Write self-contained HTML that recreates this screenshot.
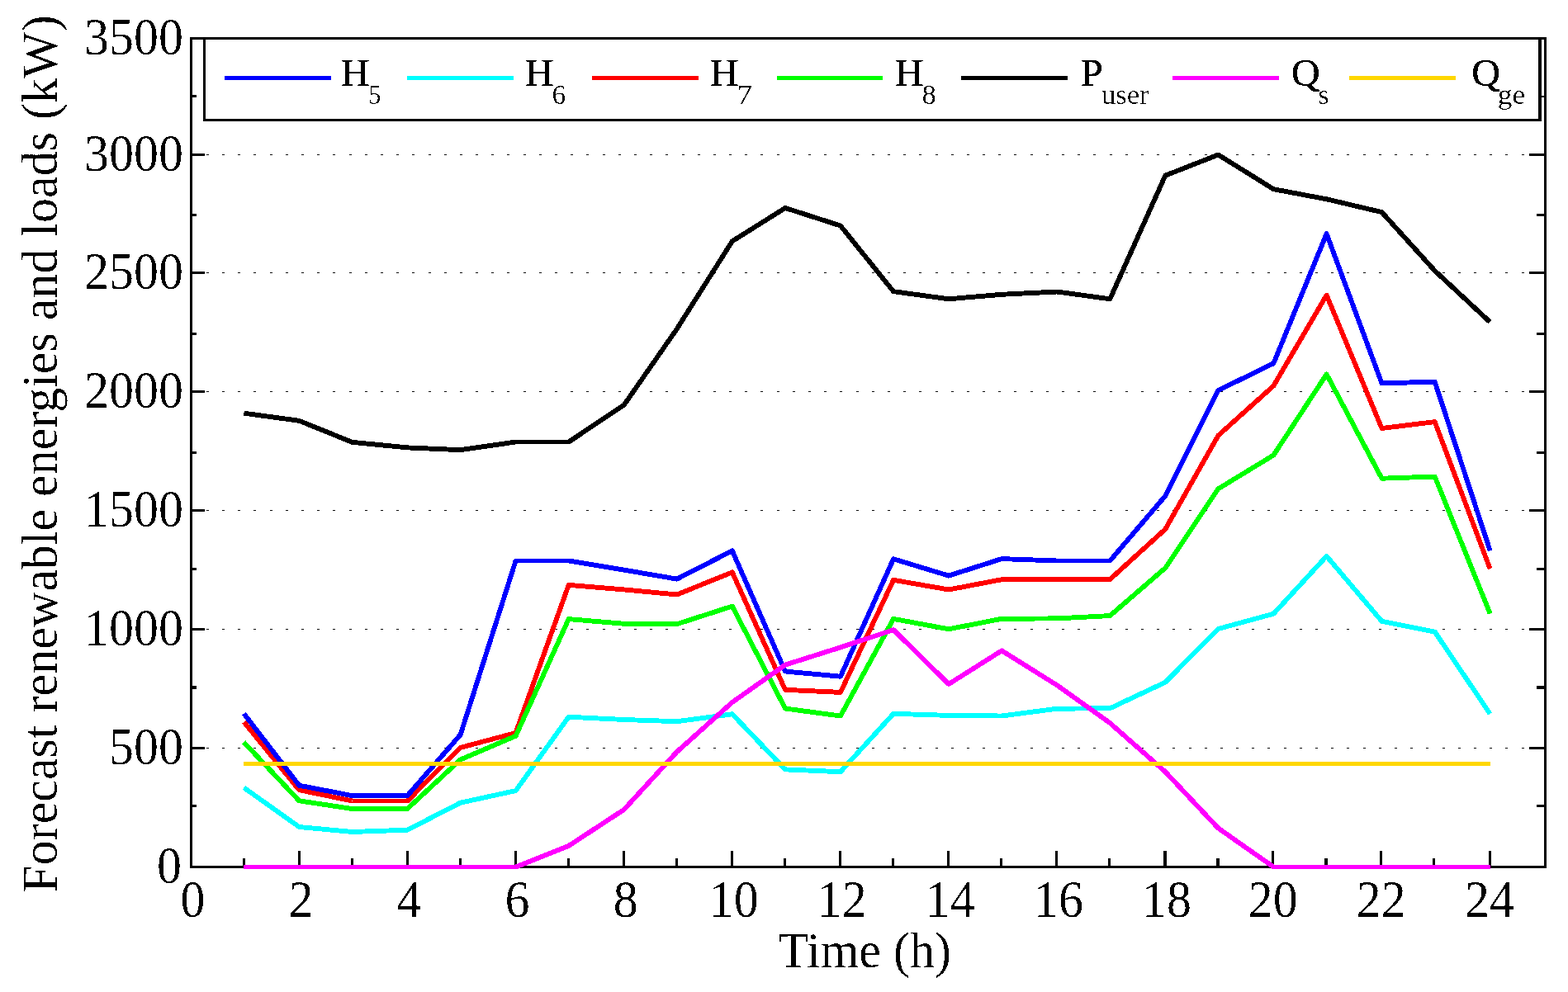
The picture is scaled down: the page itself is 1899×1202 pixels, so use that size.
<!DOCTYPE html>
<html lang="en"><head><meta charset="utf-8"><title>Forecast renewable energies and loads</title>
<style>
html,body{margin:0;padding:0;background:#fff;}
body{width:1899px;height:1202px;overflow:hidden;}
svg{display:block;}
text{font-family:"Liberation Serif","Times New Roman",serif;fill:#000;}
.t60{font-size:60px;}
.t48{font-size:48px;stroke:#000;stroke-width:0.5px;}
.sub{font-size:33.6px;}
.ln{fill:none;stroke-width:5.9;stroke-linejoin:round;stroke-linecap:butt;}
</style></head><body>
<svg width="1899" height="1202" viewBox="0 0 1899 1202">
<rect x="0" y="0" width="1899" height="1202" fill="#ffffff"/>
<defs><filter id="bin" x="-5%" y="-5%" width="110%" height="110%" color-interpolation-filters="sRGB"><feComponentTransfer><feFuncA type="discrete" tableValues="0 0 0 1 1"/></feComponentTransfer></filter></defs>
<g shape-rendering="crispEdges" fill="#000">
<path d="M250 187h3v1h-3zM269 187h3v1h-3zM288 187h3v1h-3zM307 187h3v1h-3zM327 187h3v1h-3zM346 187h3v1h-3zM365 187h3v1h-3zM384 187h3v1h-3zM403 187h3v1h-3zM423 187h3v1h-3zM442 187h3v1h-3zM461 187h3v1h-3zM480 187h3v1h-3zM499 187h3v1h-3zM519 187h3v1h-3zM538 187h3v1h-3zM557 187h3v1h-3zM576 187h3v1h-3zM595 187h3v1h-3zM614 187h3v1h-3zM634 187h3v1h-3zM653 187h3v1h-3zM672 187h3v1h-3zM691 187h3v1h-3zM710 187h3v1h-3zM730 187h3v1h-3zM749 187h3v1h-3zM768 187h3v1h-3zM787 187h3v1h-3zM806 187h3v1h-3zM826 187h3v1h-3zM845 187h3v1h-3zM864 187h3v1h-3zM883 187h3v1h-3zM902 187h3v1h-3zM921 187h3v1h-3zM941 187h3v1h-3zM960 187h3v1h-3zM979 187h3v1h-3zM998 187h3v1h-3zM1017 187h3v1h-3zM1037 187h3v1h-3zM1056 187h3v1h-3zM1075 187h3v1h-3zM1094 187h3v1h-3zM1113 187h3v1h-3zM1133 187h3v1h-3zM1152 187h3v1h-3zM1171 187h3v1h-3zM1190 187h3v1h-3zM1209 187h3v1h-3zM1228 187h3v1h-3zM1248 187h3v1h-3zM1267 187h3v1h-3zM1286 187h3v1h-3zM1305 187h3v1h-3zM1324 187h3v1h-3zM1344 187h3v1h-3zM1363 187h3v1h-3zM1382 187h3v1h-3zM1401 187h3v1h-3zM1420 187h3v1h-3zM1440 187h3v1h-3zM1459 187h3v1h-3zM1478 187h3v1h-3zM1497 187h3v1h-3zM1516 187h3v1h-3zM1535 187h3v1h-3zM1555 187h3v1h-3zM1574 187h3v1h-3zM1593 187h3v1h-3zM1612 187h3v1h-3zM1631 187h3v1h-3zM1651 187h3v1h-3zM1670 187h3v1h-3zM1689 187h3v1h-3zM1708 187h3v1h-3zM1727 187h3v1h-3zM1747 187h3v1h-3zM1766 187h3v1h-3zM1785 187h3v1h-3zM1804 187h3v1h-3zM1823 187h3v1h-3zM1843 187h3v1h-3z"/>
<path d="M250 330h3v1h-3zM269 330h3v1h-3zM288 330h3v1h-3zM307 330h3v1h-3zM327 330h3v1h-3zM346 330h3v1h-3zM365 330h3v1h-3zM384 330h3v1h-3zM403 330h3v1h-3zM423 330h3v1h-3zM442 330h3v1h-3zM461 330h3v1h-3zM480 330h3v1h-3zM499 330h3v1h-3zM519 330h3v1h-3zM538 330h3v1h-3zM557 330h3v1h-3zM576 330h3v1h-3zM595 330h3v1h-3zM614 330h3v1h-3zM634 330h3v1h-3zM653 330h3v1h-3zM672 330h3v1h-3zM691 330h3v1h-3zM710 330h3v1h-3zM730 330h3v1h-3zM749 330h3v1h-3zM768 330h3v1h-3zM787 330h3v1h-3zM806 330h3v1h-3zM826 330h3v1h-3zM845 330h3v1h-3zM864 330h3v1h-3zM883 330h3v1h-3zM902 330h3v1h-3zM921 330h3v1h-3zM941 330h3v1h-3zM960 330h3v1h-3zM979 330h3v1h-3zM998 330h3v1h-3zM1017 330h3v1h-3zM1037 330h3v1h-3zM1056 330h3v1h-3zM1075 330h3v1h-3zM1094 330h3v1h-3zM1113 330h3v1h-3zM1133 330h3v1h-3zM1152 330h3v1h-3zM1171 330h3v1h-3zM1190 330h3v1h-3zM1209 330h3v1h-3zM1228 330h3v1h-3zM1248 330h3v1h-3zM1267 330h3v1h-3zM1286 330h3v1h-3zM1305 330h3v1h-3zM1324 330h3v1h-3zM1344 330h3v1h-3zM1363 330h3v1h-3zM1382 330h3v1h-3zM1401 330h3v1h-3zM1420 330h3v1h-3zM1440 330h3v1h-3zM1459 330h3v1h-3zM1478 330h3v1h-3zM1497 330h3v1h-3zM1516 330h3v1h-3zM1535 330h3v1h-3zM1555 330h3v1h-3zM1574 330h3v1h-3zM1593 330h3v1h-3zM1612 330h3v1h-3zM1631 330h3v1h-3zM1651 330h3v1h-3zM1670 330h3v1h-3zM1689 330h3v1h-3zM1708 330h3v1h-3zM1727 330h3v1h-3zM1747 330h3v1h-3zM1766 330h3v1h-3zM1785 330h3v1h-3zM1804 330h3v1h-3zM1823 330h3v1h-3zM1843 330h3v1h-3z"/>
<path d="M250 474h3v1h-3zM269 474h3v1h-3zM288 474h3v1h-3zM307 474h3v1h-3zM327 474h3v1h-3zM346 474h3v1h-3zM365 474h3v1h-3zM384 474h3v1h-3zM403 474h3v1h-3zM423 474h3v1h-3zM442 474h3v1h-3zM461 474h3v1h-3zM480 474h3v1h-3zM499 474h3v1h-3zM519 474h3v1h-3zM538 474h3v1h-3zM557 474h3v1h-3zM576 474h3v1h-3zM595 474h3v1h-3zM614 474h3v1h-3zM634 474h3v1h-3zM653 474h3v1h-3zM672 474h3v1h-3zM691 474h3v1h-3zM710 474h3v1h-3zM730 474h3v1h-3zM749 474h3v1h-3zM768 474h3v1h-3zM787 474h3v1h-3zM806 474h3v1h-3zM826 474h3v1h-3zM845 474h3v1h-3zM864 474h3v1h-3zM883 474h3v1h-3zM902 474h3v1h-3zM921 474h3v1h-3zM941 474h3v1h-3zM960 474h3v1h-3zM979 474h3v1h-3zM998 474h3v1h-3zM1017 474h3v1h-3zM1037 474h3v1h-3zM1056 474h3v1h-3zM1075 474h3v1h-3zM1094 474h3v1h-3zM1113 474h3v1h-3zM1133 474h3v1h-3zM1152 474h3v1h-3zM1171 474h3v1h-3zM1190 474h3v1h-3zM1209 474h3v1h-3zM1228 474h3v1h-3zM1248 474h3v1h-3zM1267 474h3v1h-3zM1286 474h3v1h-3zM1305 474h3v1h-3zM1324 474h3v1h-3zM1344 474h3v1h-3zM1363 474h3v1h-3zM1382 474h3v1h-3zM1401 474h3v1h-3zM1420 474h3v1h-3zM1440 474h3v1h-3zM1459 474h3v1h-3zM1478 474h3v1h-3zM1497 474h3v1h-3zM1516 474h3v1h-3zM1535 474h3v1h-3zM1555 474h3v1h-3zM1574 474h3v1h-3zM1593 474h3v1h-3zM1612 474h3v1h-3zM1631 474h3v1h-3zM1651 474h3v1h-3zM1670 474h3v1h-3zM1689 474h3v1h-3zM1708 474h3v1h-3zM1727 474h3v1h-3zM1747 474h3v1h-3zM1766 474h3v1h-3zM1785 474h3v1h-3zM1804 474h3v1h-3zM1823 474h3v1h-3zM1843 474h3v1h-3z"/>
<path d="M250 618h3v1h-3zM269 618h3v1h-3zM288 618h3v1h-3zM307 618h3v1h-3zM327 618h3v1h-3zM346 618h3v1h-3zM365 618h3v1h-3zM384 618h3v1h-3zM403 618h3v1h-3zM423 618h3v1h-3zM442 618h3v1h-3zM461 618h3v1h-3zM480 618h3v1h-3zM499 618h3v1h-3zM519 618h3v1h-3zM538 618h3v1h-3zM557 618h3v1h-3zM576 618h3v1h-3zM595 618h3v1h-3zM614 618h3v1h-3zM634 618h3v1h-3zM653 618h3v1h-3zM672 618h3v1h-3zM691 618h3v1h-3zM710 618h3v1h-3zM730 618h3v1h-3zM749 618h3v1h-3zM768 618h3v1h-3zM787 618h3v1h-3zM806 618h3v1h-3zM826 618h3v1h-3zM845 618h3v1h-3zM864 618h3v1h-3zM883 618h3v1h-3zM902 618h3v1h-3zM921 618h3v1h-3zM941 618h3v1h-3zM960 618h3v1h-3zM979 618h3v1h-3zM998 618h3v1h-3zM1017 618h3v1h-3zM1037 618h3v1h-3zM1056 618h3v1h-3zM1075 618h3v1h-3zM1094 618h3v1h-3zM1113 618h3v1h-3zM1133 618h3v1h-3zM1152 618h3v1h-3zM1171 618h3v1h-3zM1190 618h3v1h-3zM1209 618h3v1h-3zM1228 618h3v1h-3zM1248 618h3v1h-3zM1267 618h3v1h-3zM1286 618h3v1h-3zM1305 618h3v1h-3zM1324 618h3v1h-3zM1344 618h3v1h-3zM1363 618h3v1h-3zM1382 618h3v1h-3zM1401 618h3v1h-3zM1420 618h3v1h-3zM1440 618h3v1h-3zM1459 618h3v1h-3zM1478 618h3v1h-3zM1497 618h3v1h-3zM1516 618h3v1h-3zM1535 618h3v1h-3zM1555 618h3v1h-3zM1574 618h3v1h-3zM1593 618h3v1h-3zM1612 618h3v1h-3zM1631 618h3v1h-3zM1651 618h3v1h-3zM1670 618h3v1h-3zM1689 618h3v1h-3zM1708 618h3v1h-3zM1727 618h3v1h-3zM1747 618h3v1h-3zM1766 618h3v1h-3zM1785 618h3v1h-3zM1804 618h3v1h-3zM1823 618h3v1h-3zM1843 618h3v1h-3z"/>
<path d="M250 762h3v1h-3zM269 762h3v1h-3zM288 762h3v1h-3zM307 762h3v1h-3zM327 762h3v1h-3zM346 762h3v1h-3zM365 762h3v1h-3zM384 762h3v1h-3zM403 762h3v1h-3zM423 762h3v1h-3zM442 762h3v1h-3zM461 762h3v1h-3zM480 762h3v1h-3zM499 762h3v1h-3zM519 762h3v1h-3zM538 762h3v1h-3zM557 762h3v1h-3zM576 762h3v1h-3zM595 762h3v1h-3zM614 762h3v1h-3zM634 762h3v1h-3zM653 762h3v1h-3zM672 762h3v1h-3zM691 762h3v1h-3zM710 762h3v1h-3zM730 762h3v1h-3zM749 762h3v1h-3zM768 762h3v1h-3zM787 762h3v1h-3zM806 762h3v1h-3zM826 762h3v1h-3zM845 762h3v1h-3zM864 762h3v1h-3zM883 762h3v1h-3zM902 762h3v1h-3zM921 762h3v1h-3zM941 762h3v1h-3zM960 762h3v1h-3zM979 762h3v1h-3zM998 762h3v1h-3zM1017 762h3v1h-3zM1037 762h3v1h-3zM1056 762h3v1h-3zM1075 762h3v1h-3zM1094 762h3v1h-3zM1113 762h3v1h-3zM1133 762h3v1h-3zM1152 762h3v1h-3zM1171 762h3v1h-3zM1190 762h3v1h-3zM1209 762h3v1h-3zM1228 762h3v1h-3zM1248 762h3v1h-3zM1267 762h3v1h-3zM1286 762h3v1h-3zM1305 762h3v1h-3zM1324 762h3v1h-3zM1344 762h3v1h-3zM1363 762h3v1h-3zM1382 762h3v1h-3zM1401 762h3v1h-3zM1420 762h3v1h-3zM1440 762h3v1h-3zM1459 762h3v1h-3zM1478 762h3v1h-3zM1497 762h3v1h-3zM1516 762h3v1h-3zM1535 762h3v1h-3zM1555 762h3v1h-3zM1574 762h3v1h-3zM1593 762h3v1h-3zM1612 762h3v1h-3zM1631 762h3v1h-3zM1651 762h3v1h-3zM1670 762h3v1h-3zM1689 762h3v1h-3zM1708 762h3v1h-3zM1727 762h3v1h-3zM1747 762h3v1h-3zM1766 762h3v1h-3zM1785 762h3v1h-3zM1804 762h3v1h-3zM1823 762h3v1h-3zM1843 762h3v1h-3z"/>
<path d="M250 906h3v1h-3zM269 906h3v1h-3zM288 906h3v1h-3zM307 906h3v1h-3zM327 906h3v1h-3zM346 906h3v1h-3zM365 906h3v1h-3zM384 906h3v1h-3zM403 906h3v1h-3zM423 906h3v1h-3zM442 906h3v1h-3zM461 906h3v1h-3zM480 906h3v1h-3zM499 906h3v1h-3zM519 906h3v1h-3zM538 906h3v1h-3zM557 906h3v1h-3zM576 906h3v1h-3zM595 906h3v1h-3zM614 906h3v1h-3zM634 906h3v1h-3zM653 906h3v1h-3zM672 906h3v1h-3zM691 906h3v1h-3zM710 906h3v1h-3zM730 906h3v1h-3zM749 906h3v1h-3zM768 906h3v1h-3zM787 906h3v1h-3zM806 906h3v1h-3zM826 906h3v1h-3zM845 906h3v1h-3zM864 906h3v1h-3zM883 906h3v1h-3zM902 906h3v1h-3zM921 906h3v1h-3zM941 906h3v1h-3zM960 906h3v1h-3zM979 906h3v1h-3zM998 906h3v1h-3zM1017 906h3v1h-3zM1037 906h3v1h-3zM1056 906h3v1h-3zM1075 906h3v1h-3zM1094 906h3v1h-3zM1113 906h3v1h-3zM1133 906h3v1h-3zM1152 906h3v1h-3zM1171 906h3v1h-3zM1190 906h3v1h-3zM1209 906h3v1h-3zM1228 906h3v1h-3zM1248 906h3v1h-3zM1267 906h3v1h-3zM1286 906h3v1h-3zM1305 906h3v1h-3zM1324 906h3v1h-3zM1344 906h3v1h-3zM1363 906h3v1h-3zM1382 906h3v1h-3zM1401 906h3v1h-3zM1420 906h3v1h-3zM1440 906h3v1h-3zM1459 906h3v1h-3zM1478 906h3v1h-3zM1497 906h3v1h-3zM1516 906h3v1h-3zM1535 906h3v1h-3zM1555 906h3v1h-3zM1574 906h3v1h-3zM1593 906h3v1h-3zM1612 906h3v1h-3zM1631 906h3v1h-3zM1651 906h3v1h-3zM1670 906h3v1h-3zM1689 906h3v1h-3zM1708 906h3v1h-3zM1727 906h3v1h-3zM1747 906h3v1h-3zM1766 906h3v1h-3zM1785 906h3v1h-3zM1804 906h3v1h-3zM1823 906h3v1h-3zM1843 906h3v1h-3z"/>
</g>
<g shape-rendering="crispEdges" fill="#000">
<rect x="230" y="45" width="1643" height="3"/>
<rect x="230" y="1049" width="1643" height="3"/>
<rect x="230" y="45" width="3" height="1007"/>
<rect x="1870" y="45" width="3" height="1007"/>
<rect x="294" y="1040" width="3" height="9"/>
<rect x="361" y="1031" width="3" height="18"/>
<rect x="425" y="1040" width="3" height="9"/>
<rect x="492" y="1031" width="3" height="18"/>
<rect x="556" y="1040" width="3" height="9"/>
<rect x="623" y="1031" width="3" height="18"/>
<rect x="687" y="1040" width="3" height="9"/>
<rect x="754" y="1031" width="3" height="18"/>
<rect x="818" y="1040" width="3" height="9"/>
<rect x="885" y="1031" width="3" height="18"/>
<rect x="949" y="1040" width="3" height="9"/>
<rect x="1016" y="1031" width="3" height="18"/>
<rect x="1080" y="1040" width="3" height="9"/>
<rect x="1147" y="1031" width="3" height="18"/>
<rect x="1211" y="1040" width="3" height="9"/>
<rect x="1278" y="1031" width="3" height="18"/>
<rect x="1342" y="1040" width="3" height="9"/>
<rect x="1409" y="1031" width="4" height="18"/>
<rect x="1473" y="1040" width="4" height="9"/>
<rect x="1540" y="1031" width="3" height="18"/>
<rect x="1604" y="1040" width="4" height="9"/>
<rect x="1671" y="1031" width="3" height="18"/>
<rect x="1735" y="1040" width="3" height="9"/>
<rect x="1803" y="1031" width="3" height="18"/>
<rect x="233" y="186" width="15" height="3"/>
<rect x="1852" y="186" width="18" height="3"/>
<rect x="233" y="329" width="15" height="3"/>
<rect x="1852" y="329" width="18" height="3"/>
<rect x="233" y="473" width="15" height="3"/>
<rect x="1852" y="473" width="18" height="3"/>
<rect x="233" y="617" width="15" height="3"/>
<rect x="1852" y="617" width="18" height="3"/>
<rect x="233" y="761" width="15" height="3"/>
<rect x="1852" y="761" width="18" height="3"/>
<rect x="233" y="905" width="15" height="3"/>
<rect x="1852" y="905" width="18" height="3"/>
<rect x="233" y="115" width="5" height="3"/>
<rect x="1861" y="115" width="9" height="3"/>
<rect x="233" y="259" width="5" height="3"/>
<rect x="1861" y="259" width="9" height="3"/>
<rect x="233" y="403" width="5" height="3"/>
<rect x="1861" y="403" width="9" height="3"/>
<rect x="233" y="547" width="5" height="3"/>
<rect x="1861" y="547" width="9" height="3"/>
<rect x="233" y="688" width="5" height="3"/>
<rect x="1861" y="688" width="9" height="3"/>
<rect x="233" y="831" width="5" height="4"/>
<rect x="1861" y="831" width="9" height="4"/>
<rect x="233" y="975" width="5" height="3"/>
<rect x="1861" y="975" width="9" height="3"/>
</g>
<g class="ln" shape-rendering="crispEdges">
<polyline points="295.4,874.8 362.3,957.2 426.5,970.5 493.4,970.5 557.6,905.9 624.6,888.0 688.7,708.9 755.7,714.4 819.8,720.5 886.8,693.4 951.0,835.8 1017.9,838.9 1082.1,702.8 1149.0,714.5 1213.2,702.2 1280.2,702.2 1344.3,702.0 1411.3,641.2 1475.4,527.7 1542.4,467.5 1606.6,357.6 1673.5,519.0 1737.7,511.1 1804.6,689.2" stroke="#ff0000"/>
<polyline points="295.4,899.5 362.3,970.3 426.5,980.0 493.4,980.0 557.6,920.5 624.6,891.8 688.7,750.1 755.7,755.8 819.8,756.2 886.8,734.6 951.0,858.5 1017.9,867.5 1082.1,749.9 1149.0,762.3 1213.2,749.8 1280.2,749.4 1344.3,746.1 1411.3,688.2 1475.4,592.3 1542.4,551.5 1606.6,453.5 1673.5,579.7 1737.7,577.5 1804.6,743.5" stroke="#00ff00"/>
<polyline points="295.4,864.7 362.3,951.7 426.5,964.1 493.4,964.1 557.6,890.3 624.6,679.5 688.7,679.5 755.7,690.6 819.8,701.6 886.8,667.4 951.0,813.5 1017.9,819.7 1082.1,677.3 1149.0,697.6 1213.2,677.1 1280.2,679.5 1344.3,679.5 1411.3,600.9 1475.4,473.0 1542.4,440.3 1606.6,283.3 1673.5,464.4 1737.7,462.6 1804.6,667.2" stroke="#0000ff"/>
<polyline points="295.4,954.4 362.3,1002.0 426.5,1008.0 493.4,1005.7 557.6,972.7 624.6,958.1 688.7,868.7 755.7,872.0 819.8,874.2 886.8,865.3 951.0,932.4 1017.9,935.2 1082.1,864.8 1149.0,866.9 1213.2,867.5 1280.2,858.7 1344.3,858.3 1411.3,826.7 1475.4,762.0 1542.4,743.7 1606.6,673.9 1673.5,752.8 1737.7,765.6 1804.6,865.0" stroke="#00ffff"/>
<polyline points="295.4,500.7 362.3,509.8 426.5,535.8 493.4,542.4 557.6,545.2 624.6,535.5 688.7,535.5 755.7,490.8 819.8,398.5 886.8,292.3 951.0,252.0 1017.9,273.5 1082.1,353.2 1149.0,362.3 1213.2,356.8 1280.2,353.5 1344.3,362.3 1411.3,212.7 1475.4,187.5 1542.4,229.2 1606.6,241.3 1673.5,257.1 1737.7,328.1 1804.6,390.3" stroke="#000000"/>
<polyline points="295.4,1050.5 362.3,1050.5 426.5,1050.5 493.4,1050.5 557.6,1050.5 624.6,1050.5 688.7,1024.9 755.7,981.0 819.8,911.0 886.8,851.0 951.0,805.6 1017.9,784.4 1082.1,763.2 1149.0,828.9 1213.2,788.4 1280.2,830.3 1344.3,876.1 1411.3,935.2 1475.4,1003.5 1542.4,1050.5 1606.6,1050.5 1673.5,1050.5 1737.7,1050.5 1804.6,1050.5" stroke="#ff00ff"/>
<polyline points="295.4,925.5 362.3,925.5 426.5,925.5 493.4,925.5 557.6,925.5 624.6,925.5 688.7,925.5 755.7,925.5 819.8,925.5 886.8,925.5 951.0,925.5 1017.9,925.5 1082.1,925.5 1149.0,925.5 1213.2,925.5 1280.2,925.5 1344.3,925.5 1411.3,925.5 1475.4,925.5 1542.4,925.5 1606.6,925.5 1673.5,925.5 1737.7,925.5 1804.6,925.5" stroke="#ffd700"/>
</g>
<g shape-rendering="crispEdges">
<rect x="247.5" y="46.5" width="1617" height="99" fill="#fff" stroke="#000" stroke-width="3"/>
<rect x="1863" y="45" width="4" height="102" fill="#000"/>
<rect x="1867" y="114" width="3" height="2" fill="#fff"/>
<rect x="272" y="92" width="129" height="5" fill="#0000ff"/>
<rect x="493" y="92" width="129" height="5" fill="#00ffff"/>
<rect x="717" y="92" width="129" height="5" fill="#ff0000"/>
<rect x="941" y="92" width="128" height="5" fill="#00ff00"/>
<rect x="1164" y="92" width="129" height="5" fill="#000000"/>
<rect x="1420" y="92" width="129" height="5" fill="#ff00ff"/>
<rect x="1634" y="92" width="129" height="5" fill="#ffd700"/>
</g>
<g>
<text class="t48" transform="translate(413.00 103.80) scale(1 0.975)" filter="url(#bin)">H</text>
<text class="sub" transform="translate(446.00 125.90) scale(0.92 1.02)" filter="url(#bin)">5</text>
<text class="t48" transform="translate(636.00 103.80) scale(1 0.975)" filter="url(#bin)">H</text>
<text class="sub" transform="translate(668.60 125.90) scale(1 1.02)" filter="url(#bin)">6</text>
<text class="t48" transform="translate(860.00 103.80) scale(1 0.975)" filter="url(#bin)">H</text>
<text class="sub" transform="translate(892.60 125.90) scale(1.1 1.02)" filter="url(#bin)">7</text>
<text class="t48" transform="translate(1084.00 103.80) scale(1 0.975)" filter="url(#bin)">H</text>
<text class="sub" transform="translate(1116.60 125.90) scale(1.03 1.02)" filter="url(#bin)">8</text>
<text class="t48" transform="translate(1309.00 103.80) scale(1 0.975)" filter="url(#bin)">P</text>
<text class="sub" transform="translate(1333.90 125.90) scale(1.03 1.02)" filter="url(#bin)">user</text>
<text class="t48" transform="translate(1564.10 103.80) scale(1 0.975)" filter="url(#bin)">Q</text>
<text class="sub" transform="translate(1596.60 125.90) scale(1 1.02)" filter="url(#bin)">s</text>
<text class="t48" transform="translate(1782.20 103.80) scale(1 0.975)" filter="url(#bin)">Q</text>
<text class="sub" transform="translate(1813.80 125.90) scale(1.05 1.02)" filter="url(#bin)">ge</text>
</g>
<g>
<text class="t60" transform="translate(220.00 1069.80) scale(1 1.06)" text-anchor="end" filter="url(#bin)">0</text>
<text class="t60" transform="translate(222.00 925.80) scale(1 1.06)" text-anchor="end" filter="url(#bin)">500</text>
<text class="t60" transform="translate(222.00 781.80) scale(1 1.06)" text-anchor="end" filter="url(#bin)">1000</text>
<text class="t60" transform="translate(222.00 637.80) scale(1 1.06)" text-anchor="end" filter="url(#bin)">1500</text>
<text class="t60" transform="translate(222.00 493.80) scale(1 1.06)" text-anchor="end" filter="url(#bin)">2000</text>
<text class="t60" transform="translate(222.00 349.80) scale(1 1.06)" text-anchor="end" filter="url(#bin)">2500</text>
<text class="t60" transform="translate(222.00 206.60) scale(1 1.06)" text-anchor="end" filter="url(#bin)">3000</text>
<text class="t60" transform="translate(222.00 66.30) scale(1 1.06)" text-anchor="end" filter="url(#bin)">3500</text>
</g>
<g>
<text class="t60" transform="translate(233.40 1111.10) scale(1 1.06)" text-anchor="middle" filter="url(#bin)">0</text>
<text class="t60" transform="translate(364.46 1111.10) scale(1 1.06)" text-anchor="middle" filter="url(#bin)">2</text>
<text class="t60" transform="translate(495.52 1111.10) scale(1 1.06)" text-anchor="middle" filter="url(#bin)">4</text>
<text class="t60" transform="translate(626.58 1111.10) scale(1 1.06)" text-anchor="middle" filter="url(#bin)">6</text>
<text class="t60" transform="translate(757.64 1111.10) scale(1 1.06)" text-anchor="middle" filter="url(#bin)">8</text>
<text class="t60" transform="translate(888.70 1111.10) scale(1 1.06)" text-anchor="middle" filter="url(#bin)">10</text>
<text class="t60" transform="translate(1019.76 1111.10) scale(1 1.06)" text-anchor="middle" filter="url(#bin)">12</text>
<text class="t60" transform="translate(1150.82 1111.10) scale(1 1.06)" text-anchor="middle" filter="url(#bin)">14</text>
<text class="t60" transform="translate(1281.88 1111.10) scale(1 1.06)" text-anchor="middle" filter="url(#bin)">16</text>
<text class="t60" transform="translate(1412.94 1111.10) scale(1 1.06)" text-anchor="middle" filter="url(#bin)">18</text>
<text class="t60" transform="translate(1541.80 1111.10) scale(1 1.06)" text-anchor="middle" filter="url(#bin)">20</text>
<text class="t60" transform="translate(1672.86 1111.10) scale(1 1.06)" text-anchor="middle" filter="url(#bin)">22</text>
<text class="t60" transform="translate(1803.92 1111.10) scale(1 1.06)" text-anchor="middle" filter="url(#bin)">24</text>
</g>
<text class="t60" transform="translate(1047.20 1172.00) scale(1 1.02)" text-anchor="middle" filter="url(#bin)">Time (h)</text>
<text class="t60" transform="translate(68.60 550.00) rotate(-90) scale(1 1.02)" text-anchor="middle" filter="url(#bin)">Forecast renewable energies and loads (kW)</text>
</svg>
</body></html>
